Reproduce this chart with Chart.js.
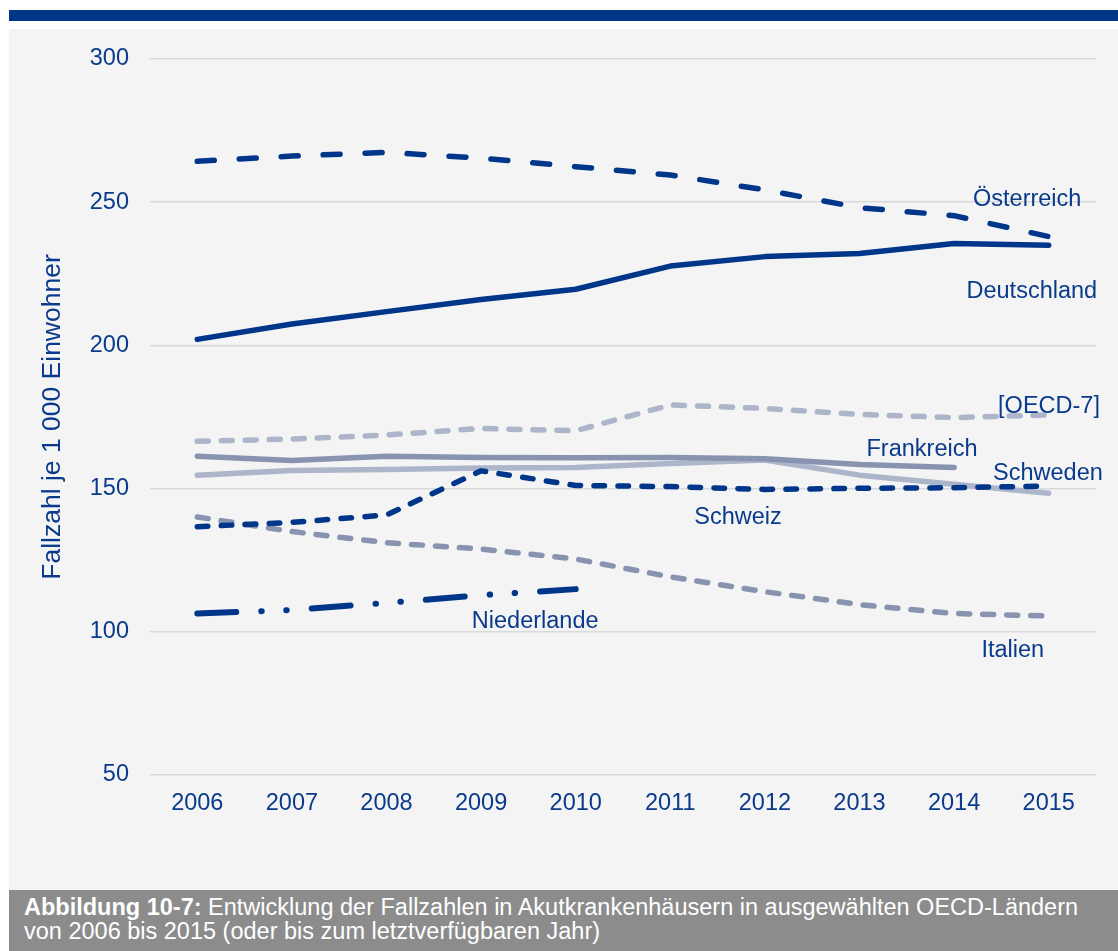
<!DOCTYPE html>
<html>
<head>
<meta charset="utf-8">
<script src="https://cdn.jsdelivr.net/npm/chart.js@4/dist/chart.umd.min.js"></script>
<style>
  html, body { margin: 0; padding: 0; background: #ffffff; width: 1118px; height: 951px; overflow: hidden;
    font-family: "Liberation Sans", Arial, sans-serif; }
  #topbar { position: absolute; left: 9px; top: 10px; width: 1109px; height: 11px; background: #003686; }
  #panel { position: absolute; left: 9px; top: 29px; width: 1109px; height: 861px; background: #f4f4f4; }
  #caption { position: absolute; left: 9px; top: 890px; width: 1109px; height: 61px; background: #8c8c8c;
    color: #ffffff; font-size: 23.5px; line-height: 24px; padding: 5px 0 0 15px; box-sizing: border-box; white-space: nowrap; }
  #caption b { font-weight: bold; }
  #chart { position: absolute; left: 0; top: 0; }
</style>
</head>
<body>
<div id="topbar"></div>
<div id="panel"></div>
<canvas id="chart" width="1118" height="951"></canvas>
<div id="caption"><b>Abbildung 10-7:</b> Entwicklung der Fallzahlen in Akutkrankenhäusern in ausgewählten OECD-Ländern<br>von 2006 bis 2015 (oder bis zum letztverfügbaren Jahr)</div>

<script>
// Jahre (Kategorien)
const years = ['2006', '2007', '2008', '2009', '2010', '2011', '2012', '2013', '2014', '2015'];

// Fallzahl je 1 000 Einwohner
const oesterreich = [264.3, 266.1, 267.4, 265.4, 262.4, 259.5, 254.3, 248.1, 245.3, 238.0];
const deutschland = [202.1, 207.5, 211.8, 216.0, 219.6, 227.7, 231.0, 232.1, 235.6, 235.0];
const oecd7       = [166.5, 167.3, 168.7, 171.0, 170.2, 179.2, 178.0, 175.9, 174.8, 175.7];
const frankreich  = [161.3, 159.8, 161.3, 160.9, 160.8, 160.9, 160.4, 158.4, 157.4, null];
const schweden    = [154.7, 156.3, 156.7, 157.2, 157.4, 158.8, 160.0, 154.7, 151.5, 148.4];
const schweiz     = [136.7, 138.2, 140.8, 156.2, 151.1, 150.7, 149.7, 150.1, 150.3, 150.9];
const italien     = [140.1, 135.0, 131.1, 128.9, 125.4, 119.2, 114.0, 109.5, 106.4, 105.5];
const niederlande = [106.4, 107.6, 110.1, 112.8, 114.9, null, null, null, null, null];

// Achsenbeschriftung
const yTicks = [50, 100, 150, 200, 250, 300];
const yTitle = 'Fallzahl je 1 000 Einwohner';

const DARK = '#00368a';
const MID = '#8893b0';
const LIGHT = '#adb5ca';
const TEXT = '#0a3a8c';
const FONT = '"Liberation Sans", Arial, sans-serif';

// Direkt an den Linien stehende Ländernamen (Position in Kategorie-Index / Wert)
const lineLabels = [
  { text: 'Österreich',  at: [8.200, 248.7] },
  { text: 'Deutschland', at: [8.131, 216.7] },
  { text: '[OECD-7]',    at: [8.465, 176.4] },
  { text: 'Frankreich',  at: [7.074, 161.4] },
  { text: 'Schweden',    at: [8.412, 153.1] },
  { text: 'Schweiz',     at: [5.253, 137.6] },
  { text: 'Niederlande', at: [2.902, 101.2] },
  { text: 'Italien',     at: [8.289, 91.1] }
];

const lineLabelPlugin = {
  id: 'lineLabels',
  afterDatasetsDraw(chart) {
    const { ctx, scales: { x, y } } = chart;
    ctx.save();
    ctx.font = '23.5px ' + FONT;
    ctx.fillStyle = TEXT;
    ctx.textAlign = 'left';
    ctx.textBaseline = 'alphabetic';
    lineLabels.forEach(l => {
      ctx.fillText(l.text, x.getPixelForValue(l.at[0]), y.getPixelForValue(l.at[1]));
    });
    ctx.restore();
  }
};

function series(data, color, width, dash) {
  return {
    data,
    borderColor: color,
    backgroundColor: color,
    borderWidth: width,
    borderDash: dash || [],
    borderCapStyle: 'round',
    borderJoinStyle: 'round',
    pointRadius: 0,
    pointHoverRadius: 0,
    tension: 0,
    spanGaps: false,
    fill: false
  };
}

new Chart(document.getElementById('chart'), {
  type: 'line',
  data: {
    labels: years,
    datasets: [
      series(niederlande, DARK, 6, [39, 25, 0.5, 24.5, 0.5, 25]),
      series(schweiz, DARK, 5.5, [10.5, 13.5]),
      series(oesterreich, DARK, 5.5, [17, 25]),
      series(deutschland, DARK, 5.5),
      series(italien, MID, 5.5, [11, 13]),
      series(frankreich, MID, 5.5),
      series(schweden, LIGHT, 5.5),
      series(oecd7, LIGHT, 5.5, [11, 13])
    ]
  },
  options: {
    responsive: false,
    animation: false,
    devicePixelRatio: 1,
    layout: { padding: { top: 59, right: 22, bottom: 0, left: 0 } },
    plugins: { legend: { display: false }, tooltip: { enabled: false } },
    scales: {
      x: {
        offset: true,
        grid: { display: false, drawTicks: false },
        border: { display: false },
        ticks: { color: TEXT, font: { family: FONT, size: 23.5 }, padding: 14, maxRotation: 0, autoSkip: false },
        afterFit(scale) { scale.height = 176; }
      },
      y: {
        min: 50,
        max: 300,
        afterBuildTicks(scale) { scale.ticks = yTicks.map(v => ({ value: v })); },
        grid: { color: '#d9d9d9', lineWidth: 1.5, drawTicks: false },
        border: { display: false },
        ticks: { color: TEXT, font: { family: FONT, size: 23.5 }, padding: 21 },
        title: { display: true, text: yTitle, color: TEXT, font: { family: FONT, size: 26.5 }, padding: { top: 37, bottom: 0 } },
        afterFit(scale) { scale.width = 150; }
      }
    }
  },
  plugins: [lineLabelPlugin]
});
</script>
</body>
</html>
